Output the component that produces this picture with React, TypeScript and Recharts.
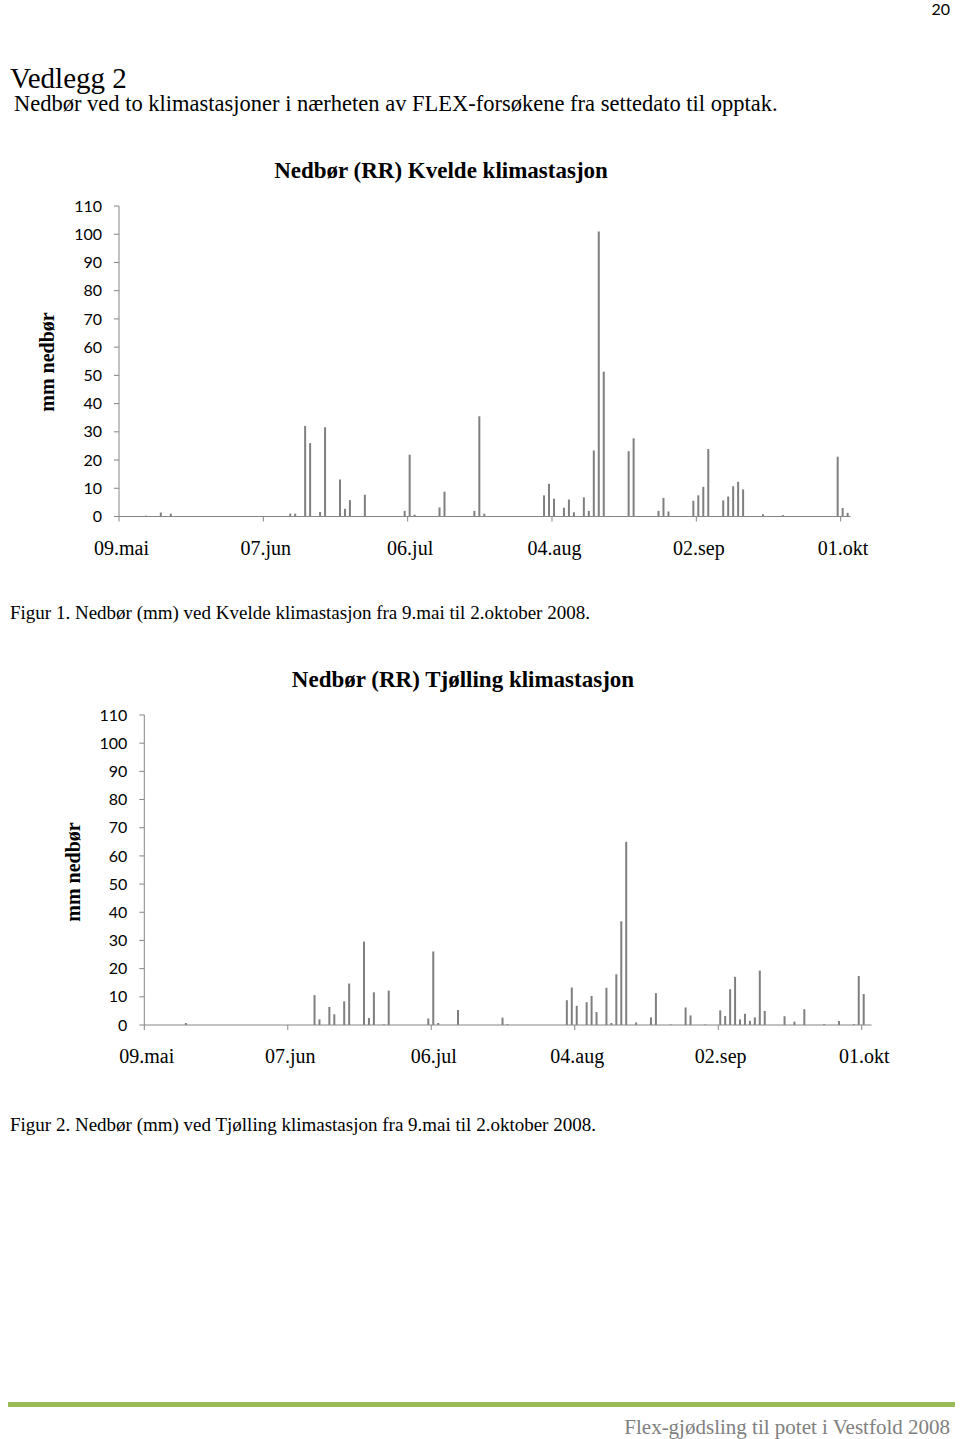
import React from 'react';
import { BarChart, Bar, XAxis, YAxis } from 'recharts';

// Daily rainfall (mm), 9 May - 2 Oct 2008. Only days with rain are listed.
const KVELDE_DATES = [
  '14.05', '17.05', '19.05', '12.06', '13.06', '15.06', '16.06', '18.06', '19.06', '22.06',
  '23.06', '24.06', '27.06', '05.07', '06.07', '07.07', '12.07', '13.07', '15.07', '19.07',
  '20.07', '21.07', '02.08', '03.08', '04.08', '06.08', '07.08', '08.08', '10.08', '11.08',
  '12.08', '13.08', '14.08', '15.08', '19.08', '20.08', '25.08', '26.08', '27.08', '01.09',
  '02.09', '03.09', '04.09', '07.09', '08.09', '09.09', '10.09', '11.09', '15.09', '19.09',
  '30.09', '01.10', '02.10',
];
const KVELDE_MM = [
  0.3, 1.4, 1.0, 1.0, 1.0, 32.1, 26.0, 1.6, 31.6, 13.1,
  2.7, 5.8, 7.7, 2.0, 21.9, 0.6, 3.2, 8.8, 0.2, 2.0,
  35.5, 1.0, 7.5, 11.6, 6.3, 3.1, 6.0, 1.5, 6.8, 2.0,
  23.4, 101.0, 51.3, 0.2, 23.1, 27.7, 2.0, 6.6, 1.8, 5.6,
  7.5, 10.5, 23.9, 5.7, 7.1, 10.7, 12.3, 9.6, 0.8, 0.5,
  21.2, 3.0, 1.3,
];

const TJOLLING_DATES = [
  '17.05', '12.06', '13.06', '15.06', '16.06', '18.06', '19.06', '22.06', '23.06', '24.06',
  '26.06', '27.06', '05.07', '06.07', '07.07', '11.07', '20.07', '21.07', '02.08', '03.08',
  '04.08', '06.08', '07.08', '08.08', '10.08', '11.08', '12.08', '13.08', '14.08', '16.08',
  '19.08', '20.08', '23.08', '26.08', '27.08', '30.08', '02.09', '03.09', '04.09', '05.09',
  '06.09', '07.09', '08.09', '09.09', '10.09', '11.09', '15.09', '17.09', '19.09', '23.09',
  '26.09', '29.09', '30.09', '01.10',
];
const TJOLLING_MM = [
  0.7, 10.6, 2.0, 6.4, 3.8, 8.4, 14.7, 29.6, 2.5, 11.6,
  0.2, 12.2, 2.3, 26.1, 0.7, 5.3, 2.6, 0.3, 8.8, 13.3,
  6.8, 8.1, 10.3, 4.6, 13.2, 0.7, 18.0, 36.8, 65.0, 0.9,
  2.7, 11.3, 0.2, 6.2, 3.4, 0.2, 5.2, 3.2, 12.7, 17.1,
  2.0, 4.0, 1.5, 2.7, 19.3, 5.0, 3.1, 1.2, 5.6, 0.3,
  1.4, 0.3, 17.4, 11.0,
];

const TICK_LABELS: Record<string, string> = {
  '09.05': '09.mai',
  '07.06': '07.jun',
  '06.07': '06.jul',
  '04.08': '04.aug',
  '02.09': '02.sep',
  '01.10': '01.okt',
};
const Y_TICKS = [0, 10, 20, 30, 40, 50, 60, 70, 80, 90, 100, 110];

const START = new Date(2008, 4, 9);
const N_DAYS = 147;

const pad = (n: number) => String(n).padStart(2, '0');

function buildDays(dates: string[], values: number[]) {
  const rows = [];
  for (let i = 0; i < N_DAYS; i++) {
    const d = new Date(START.getFullYear(), START.getMonth(), START.getDate() + i);
    const key = `${pad(d.getDate())}.${pad(d.getMonth() + 1)}`;
    const idx = dates.indexOf(key);
    rows.push({ day: key, mm: idx >= 0 ? values[idx] : 0 });
  }
  return rows;
}

const SERIF = '"Liberation Serif", "Times New Roman", serif';
const SANS = 'Lato, Carlito, Calibri, sans-serif';
const AXIS = '#868686';
const BAR = '#7f7f7f';

function Txt({ x, y, size, anchor = 'start', bold, color = '#000', font = SERIF, rotate, children }: any) {
  const tx = anchor === 'middle' ? '-50%' : anchor === 'end' ? '-100%' : '0';
  return (
    <div
      style={{
        position: 'absolute',
        left: x,
        top: y,
        transform: `translate(${tx}, -50%)${rotate ? ` rotate(${rotate}deg)` : ''}`,
        fontFamily: font,
        fontSize: size,
        fontWeight: bold ? 700 : 400,
        color,
        whiteSpace: 'nowrap',
        lineHeight: 1,
      }}
    >
      {children}
    </div>
  );
}

interface RainChartProps {
  data: { day: string; mm: number }[];
  top: number;
  plotLeft: number;
  plotRight: number;
  plotTop: number;
  plotBottom: number;
}

function RainChart({ data, top, plotLeft, plotRight, plotTop, plotBottom }: RainChartProps) {
  const height = plotBottom - top + 70;
  const bw = (plotRight - plotLeft) / N_DAYS;

  // Excel style: tick mark at the start of the day, label centred on the day
  const renderTick = (props: any) => {
    const { x, y, payload } = props;
    const label = TICK_LABELS[payload.value];
    if (!label) return <g />;
    return (
      <g>
        <line x1={x - bw / 2} x2={x - bw / 2} y1={y} y2={y + 5} stroke={AXIS} />
        <text x={x} y={y + 31} textAnchor="middle" dominantBaseline="central" fontFamily={SERIF} fontSize={20} fill="#000">
          {label}
        </text>
      </g>
    );
  };

  return (
    <div style={{ position: 'absolute', left: 0, top }}>
      <BarChart
        width={960}
        height={height}
        data={data}
        margin={{ top: plotTop - top, right: 960 - plotRight, bottom: height - (plotBottom - top) - 40, left: 0 }}
      >
        <XAxis
          dataKey="day"
          type="category"
          interval={0}
          height={40}
          tickSize={0}
          tickMargin={0}
          tickLine={false}
          axisLine={{ stroke: AXIS }}
          tick={renderTick}
        />
        <YAxis
          type="number"
          domain={[0, 110]}
          ticks={Y_TICKS}
          interval={0}
          width={plotLeft}
          tickSize={5}
          tickMargin={12}
          tickLine={{ stroke: AXIS }}
          axisLine={{ stroke: AXIS }}
          tick={{ fill: '#000', fontFamily: SANS, fontSize: 16 }}
        />
        <Bar dataKey="mm" fill={BAR} barSize={2} isAnimationActive={false} />
      </BarChart>
    </div>
  );
}

export default function App() {
  const kvelde = buildDays(KVELDE_DATES, KVELDE_MM);
  const tjolling = buildDays(TJOLLING_DATES, TJOLLING_MM);

  return (
    <div style={{ position: 'absolute', left: 0, top: 0, width: 960, height: 1439, background: '#fff', overflow: 'hidden' }}>
      <Txt x={950} y={9} size={16} anchor="end" font={SANS}>20</Txt>
      <Txt x={10} y={78} size={29}>Vedlegg 2</Txt>
      <Txt x={14} y={104} size={22.5}>Nedbør ved to klimastasjoner i nærheten av FLEX-forsøkene fra settedato til opptak.</Txt>

      <Txt x={441} y={170} size={23} anchor="middle" bold>Nedbør (RR) Kvelde klimastasjon</Txt>
      <Txt x={47} y={362} size={20} anchor="middle" bold rotate={-90}>mm nedbør</Txt>
      <RainChart data={kvelde} top={150} plotLeft={119} plotRight={850.6} plotTop={206} plotBottom={516.5} />
      <Txt x={10} y={612} size={19}>Figur 1. Nedbør (mm) ved Kvelde klimastasjon fra 9.mai til 2.oktober 2008.</Txt>

      <Txt x={463} y={679} size={23} anchor="middle" bold>Nedbør (RR) Tjølling klimastasjon</Txt>
      <Txt x={73} y={872} size={20} anchor="middle" bold rotate={-90}>mm nedbør</Txt>
      <RainChart data={tjolling} top={660} plotLeft={144.3} plotRight={871.6} plotTop={715} plotBottom={1025} />
      <Txt x={10} y={1124} size={19}>Figur 2. Nedbør (mm) ved Tjølling klimastasjon fra 9.mai til 2.oktober 2008.</Txt>

      <div style={{ position: 'absolute', left: 8, top: 1402, width: 947, height: 5, background: '#9bbb59' }} />
      <Txt x={950} y={1427} size={21} anchor="end" color="#808080">Flex-gjødsling til potet i Vestfold 2008</Txt>
    </div>
  );
}
